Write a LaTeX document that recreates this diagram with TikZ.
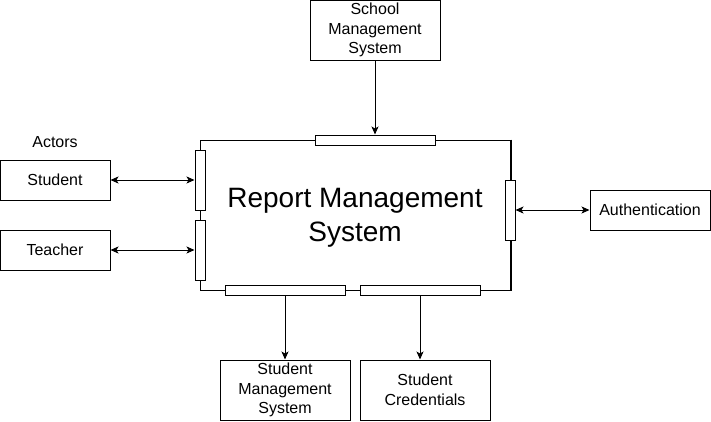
\documentclass[tikz,border=0pt]{standalone}
\usepackage{fontspec}
\setmainfont{Liberation Sans}
\usetikzlibrary{arrows.meta}

\begin{document}
\begin{tikzpicture}[x=1pt,y=-1pt,
      box/.style = {
        draw, line width=1pt, inner sep=0pt, align=center,
        font=\fontsize{16}{19.5}\selectfont
      }, port/.style = {
        draw, fill=white, line width=1pt, inner sep=0pt
      }, link/.style = {
        line width=1pt, -{Stealth[length=8pt,width=7pt,inset=2pt]}
      }, both/.style = {
        link, {Stealth[length=8pt,width=7pt,inset=2pt]}-{Stealth[length=8pt,width=7pt,inset=2pt]}
      }
    ]
      \useasboundingbox (0,0) rectangle (711,421);
      \tikzset{hport/.style={port,minimum width=120pt,minimum height=10pt},
               vport/.style={port,minimum width=10pt,minimum height=60pt}}
      \node[draw,line width=1pt,inner sep=0pt,minimum width=310pt,minimum height=150pt] (rms) at (355,215) {};
      \node[align=center,font=\fontsize{28}{33.5}\selectfont,yshift=-3pt] (rmstext) at (rms.center)
        {Report Management\\System};
      \draw[line width=2pt] (rms.north east) -- (rms.south east);
      \node[hport] (ptop)  at (375,140) {};
      \node[vport] (pstu)  at (200,180) {};
      \node[vport] (ptea)  at (200,250) {};
      \node[vport] (pauth) at (510,210) {};
      \node[hport] (psms)  at (285,290) {};
      \node[hport] (pcred) at (420,290) {};
      \node[box,minimum width=130pt,minimum height=60pt] (school) at (375,30) {School\\Management\\System};
      \node[font=\fontsize{16}{19.5}\selectfont] (actors) at (55,142) {Actors};
      \node[box,minimum width=110pt,minimum height=40pt] (student) at (55,180) {Student};
      \node[box,minimum width=110pt,minimum height=40pt] (teacher) at (55,250) {Teacher};
      \node[box,minimum width=120pt,minimum height=40pt] (auth) at (650,210) {Authentication};
      \node[box,minimum width=130pt,minimum height=60pt] (sms) at (285,390) {Student\\Management\\System};
      \node[box,minimum width=130pt,minimum height=60pt] (cred) at (425,390) {Student\\Credentials};
      \draw[link] (school) -- (ptop);
      \draw[both] (student) -- (pstu);
      \draw[both] (teacher) -- (ptea);
      \draw[both] (pauth) -- (auth);
      \draw[link] (psms) -- (sms);
      \draw[link] (pcred.south) -- (pcred.south |- cred.north);
    \end{tikzpicture}
\end{document}
